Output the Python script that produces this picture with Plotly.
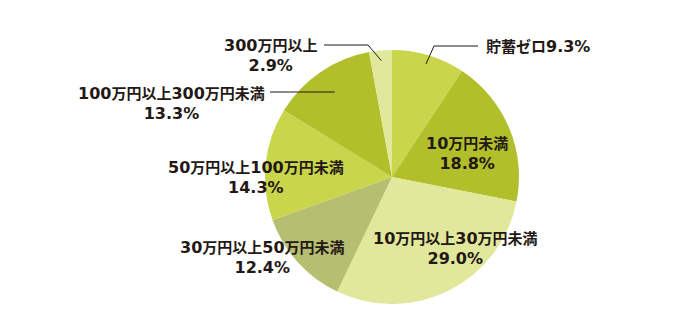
import math
import re
import plotly.graph_objects as go

categories = ["貯蓄ゼロ", "10万円未満", "10万円以上30万円未満", "30万円以上50万円未満",
              "50万円以上100万円未満", "100万円以上300万円未満", "300万円以上"]
values = [9.3, 18.8, 29.0, 12.4, 14.3, 13.3, 2.9]
pct_labels = ["9.3%", "18.8%", "29.0%", "12.4%", "14.3%", "13.3%", "2.9%"]
colors = ["#c9d54b", "#b1bf2b", "#e1e79b", "#b6be6f", "#c9d54b", "#b1bf2b", "#e1e79b"]

W, H = 688, 329
CX, CY, R = 392, 177, 127

fig = go.Figure(go.Pie(
    labels=categories, values=values, sort=False, direction="clockwise", rotation=0,
    marker=dict(colors=colors, line=dict(width=0)), textinfo="none", hoverinfo="label+percent",
    domain=dict(x=[(CX - R) / W, (CX + R) / W], y=[(H - CY - R) / H, (H - CY + R) / H]),
    showlegend=False,
))

def px(x):
    return x / W

def py(y):
    return 1 - y / H

def slice_point(i, frac):
    total = sum(values)
    before = sum(values[:i])
    ang = (before + values[i] / 2) / total * 2 * math.pi
    return CX + frac * R * math.sin(ang), CY - frac * R * math.cos(ang)

FONT = dict(family="Noto Sans CJK JP, sans-serif", size=15, color="#231815", weight="bold")

def styled(s):
    return re.sub(r"([0-9.%]+)",
                  lambda m: "<span style=\"font-family:'DejaVu Sans';font-size:16px;font-weight:bold\">"
                            + m.group(1) + "</span>", s)

def ann(text, x, y, xanchor="center"):
    fig.add_annotation(text=styled(text), x=px(x), y=py(y), xref="paper", yref="paper",
                       xanchor=xanchor, yanchor="middle", showarrow=False, font=FONT, align="center")

# label placements (text anchor positions)
ann(categories[0] + pct_labels[0], 484, 46, xanchor="left")
ann(categories[1] + "<br>" + pct_labels[1], 467, 152)
ann(categories[2] + "<br>" + pct_labels[2], 456, 247)
ann(categories[3] + "<br>" + pct_labels[3], 262, 256)
ann(categories[4] + "<br>" + pct_labels[4], 256, 176)
ann(categories[5] + "<br>" + pct_labels[5], 171, 102)
ann(categories[6] + "<br>" + pct_labels[6], 270, 55)

line = dict(color="#231815", width=1)
def seg(x0, y0, x1, y1):
    fig.add_shape(type="line", xref="paper", yref="paper",
                  x0=px(x0), y0=py(y0), x1=px(x1), y1=py(y1), line=line)

# leader for 貯蓄ゼロ
sx, sy = slice_point(0, 0.93)
seg(sx, sy, 434, 46)
seg(434, 46, 478, 46)
# leader for 300万円以上
sx, sy = slice_point(6, 0.92)
seg(sx, sy, 368, 45)
seg(368, 45, 324, 45)
# leader for 100万円以上300万円未満
sx, sy = slice_point(5, 0.8)
seg(sx, 92, 270, 92)

fig.update_layout(width=W, height=H, margin=dict(l=0, r=0, t=0, b=0),
                  paper_bgcolor="white", plot_bgcolor="white")
fig.write_html("out.html")
